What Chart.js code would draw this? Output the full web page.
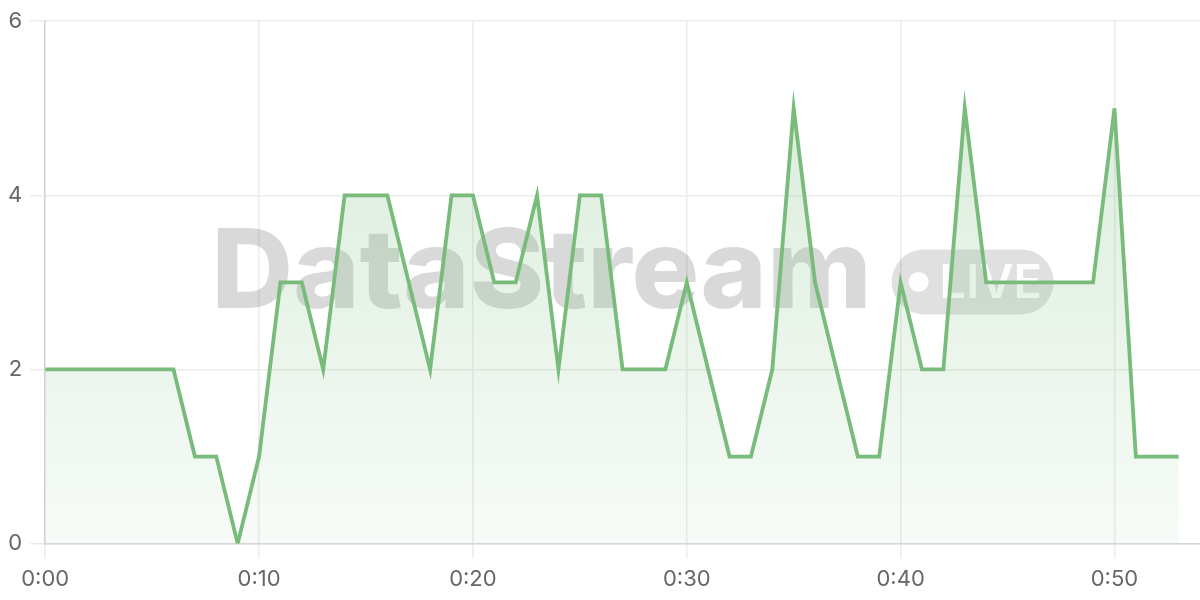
<!DOCTYPE html>
<html>
<head>
<meta charset="utf-8">
<script src="https://cdn.jsdelivr.net/npm/chart.js@4"></script>
<style>
  html, body { margin: 0; padding: 0; background: #fff; }
  #wrap { width: 1200px; height: 600px; }
</style>
</head>
<body>
<div id="wrap"><canvas id="myChart"></canvas></div>
<script>
  // minutes since start
  var minutes = [];
  for (var m = 0; m <= 53; m++) minutes.push(m);

  // count per minute
  var counts = [
    2, 2, 2, 2, 2, 2, 2, 1, 1, 0,
    1, 3, 3, 2, 4, 4, 4, 3, 2, 4,
    4, 3, 3, 4, 2, 4, 4, 2, 2, 2,
    3, 2, 1, 1, 2, 5, 3, 2, 1, 1,
    3, 2, 2, 5, 3, 3, 3, 3, 3, 3,
    5, 1, 1, 1
  ];

  var yTicks = [0, 2, 4, 6];
  var xTicks = [0, 10, 20, 30, 40, 50];

  var green = 'rgb(120, 187, 123)';

  // "DataStream LIVE" watermark behind the line
  var watermark = {
    id: 'watermark',
    beforeDatasetsDraw: function (chart) {
      var ctx = chart.ctx;
      var a = chart.chartArea;
      var cx = (a.left + a.right) / 2;
      var cy = (a.top + a.bottom) / 2;
      ctx.save();

      // big word
      ctx.font = '800 110px Inter, "Open Sans", sans-serif';
      ctx.fillStyle = 'rgba(0, 0, 0, 0.15)';
      ctx.textBaseline = 'alphabetic';
      ctx.textAlign = 'left';
      var word = 'DataStream';
      var w = ctx.measureText(word).width;
      var sx = 660 / w;
      var left = cx - 411;
      ctx.save();
      ctx.translate(left, cy + 26);
      ctx.scale(sx, 1);
      ctx.fillText(word, 0, 0);
      ctx.restore();

      // pill
      var px = left + 680, py = cy - 33, pw = 162, ph = 65, r = ph / 2;
      ctx.beginPath();
      ctx.moveTo(px + r, py);
      ctx.lineTo(px + pw - r, py);
      ctx.arc(px + pw - r, py + r, r, -Math.PI / 2, Math.PI / 2);
      ctx.lineTo(px + r, py + ph);
      ctx.arc(px + r, py + r, r, Math.PI / 2, Math.PI * 1.5);
      ctx.closePath();
      ctx.fillStyle = 'rgba(0, 0, 0, 0.12)';
      ctx.fill();

      ctx.fillStyle = 'rgba(255, 255, 255, 0.95)';
      ctx.beginPath();
      ctx.arc(px + 27, py + ph / 2, 10, 0, Math.PI * 2);
      ctx.fill();

      ctx.font = '600 47px Inter, "Open Sans", sans-serif';
      ctx.fillText('LIVE', px + 48, py + 49);
      ctx.restore();
    }
  };

  var ctx = document.getElementById('myChart').getContext('2d');
  var chart = new Chart(ctx, {
    type: 'line',
    data: {
      labels: minutes,
      datasets: [
        {
          label: 'Events',
          data: minutes.map(function (x, i) { return { x: x, y: counts[i] }; }),
          borderColor: green,
          borderWidth: 3.8,
          tension: 0,
          pointRadius: 0,
          fill: true,
          backgroundColor: function (context) {
            var c = context.chart;
            var area = c.chartArea;
            if (!area) return 'rgba(120, 187, 123, 0.15)';
            var g = c.ctx.createLinearGradient(0, area.top, 0, area.bottom);
            g.addColorStop(0, 'rgba(120, 187, 123, 0.3)');
            g.addColorStop(1, 'rgba(120, 187, 123, 0.06)');
            return g;
          }
        }
      ]
    },
    options: {
      responsive: true,
      maintainAspectRatio: false,
      animation: false,
      layout: {
        padding: { top: 9, left: 0, right: 0, bottom: 0 }
      },
      plugins: {
        legend: { display: false },
        tooltip: { enabled: false }
      },
      scales: {
        x: {
          type: 'linear',
          min: 0,
          max: 54,
          afterBuildTicks: function (axis) {
            axis.ticks = xTicks.map(function (v) { return { value: v }; });
          },
          ticks: {
            color: '#666',
            font: { family: 'Inter, "Open Sans", sans-serif', size: 22 },
            padding: 7.5,
            maxRotation: 0,
            callback: function (v) {
              return '0:' + (v < 10 ? '0' + v : v);
            }
          },
          grid: { color: '#ebebeb', lineWidth: 1.5, tickLength: 15 },
          border: { color: '#d4d4d4', width: 1.5 }
        },
        y: {
          min: 0,
          max: 6,
          afterBuildTicks: function (axis) {
            axis.ticks = yTicks.map(function (v) { return { value: v }; });
          },
          ticks: {
            color: '#666',
            font: { family: 'Inter, "Open Sans", sans-serif', size: 22 },
            padding: 8
          },
          grid: { color: '#ebebeb', lineWidth: 1.5, tickLength: 15 },
          border: { color: '#d4d4d4', width: 1.5 }
        }
      }
    },
    plugins: [watermark]
  });
</script>
</body>
</html>
